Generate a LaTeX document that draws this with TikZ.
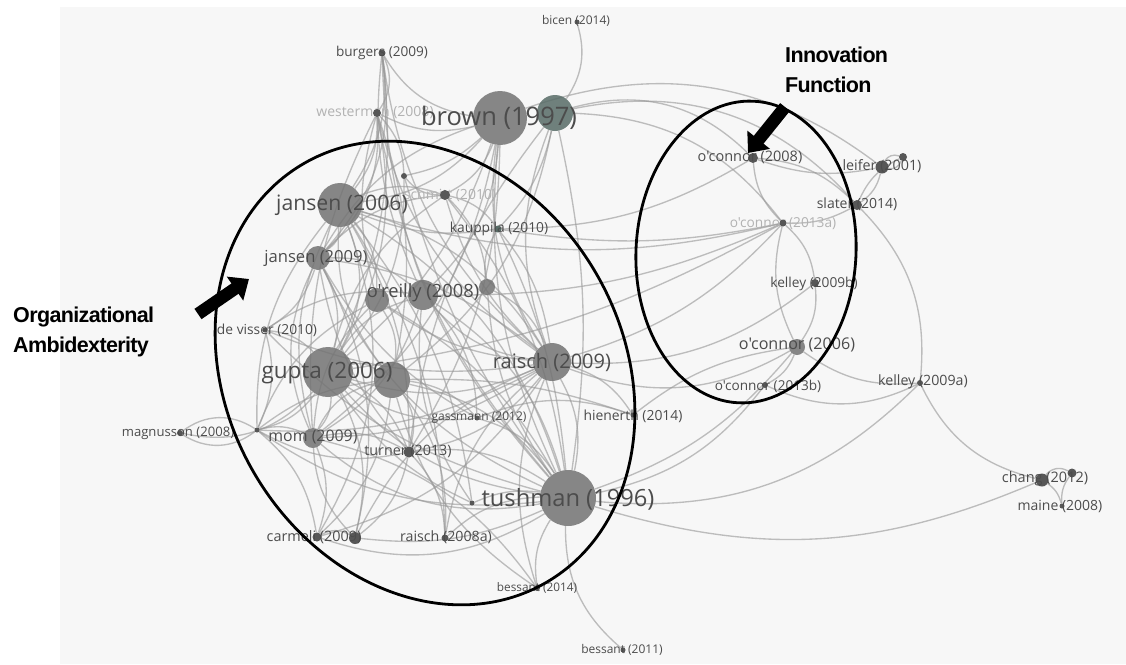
\documentclass[tikz,border=0pt]{standalone}
\usepackage{fontspec}
\usetikzlibrary{arrows.meta}
\newfontfamily\labfont{Open Sans}[Ligatures=TeXOff]
\newfontfamily\notefont{Liberation Sans}[Ligatures=TeXOff,LetterSpace=-3]
\definecolor{slate}{RGB}{88,108,103}
\pgfdeclarelayer{back}
\pgfdeclarelayer{edges}
\pgfsetlayers{back,edges,main}
\begin{document}
\begin{tikzpicture}[x=1pt,y=-1pt,
  paper/.style={circle,inner sep=0pt,minimum size=#1pt,fill=black!55,fill opacity=.85},
  dot/.style={circle,inner sep=0pt,minimum size=#1pt,fill=black!66},
  lbl/.style={font=\labfont\fontsize{#1}{#1}\selectfont,text=black!70,inner sep=0pt},
  faint/.style={font=\labfont\fontsize{#1}{#1}\selectfont,text=black!30,inner sep=0pt},
  edge/.style={draw=black!40,line width=1.35pt,opacity=.62},
  ring/.style={draw=black,line width=2.8pt},
  pointer/.style={line width=12.5pt,-{Triangle[length=17pt,width=28pt]}},
  note/.style={font=\notefont\bfseries\fontsize{21.5}{30}\selectfont,align=left,anchor=west,inner sep=0pt},
]
\useasboundingbox (0,0) rectangle (1126,664);
\begin{pgfonlayer}{back}
  \fill[white] (0,0) rectangle (1126,664);
  \fill[black!3] (60,7) rectangle (1126,664);
\end{pgfonlayer}

% ---- papers (circles) ----
\node[dot=5] (bicen) at (577,22) {};
\node[dot=7] (burgers) at (382,53) {};
\node[dot=8] (wester) at (377,113) {};
\node[paper=54] (brownA) at (500,118) {};
\node[paper=36,fill=slate] (brownB) at (555,113) {};
\node[paper=44] (jansenA) at (340,205) {};
\node[dot=10] (schmitt) at (445,195) {};
\node[dot=6] (smallA) at (404,176) {};
\node[dot=7,fill=slate] (kauppila) at (498,229) {};
\node[paper=24] (jansenB) at (318,258) {};
\node[paper=24] (oreillyA) at (377,300) {};
\node[paper=30] (oreillyB) at (423,295) {};
\node[paper=16] (oreillyC) at (487,287) {};
\node[dot=5] (devisser) at (265,330) {};
\node[paper=50] (guptaA) at (328,372) {};
\node[paper=36] (guptaB) at (392,380) {};
\node[paper=38] (raischA) at (552,362) {};
\node[dot=5] (gassmann) at (477,418) {};
\node[dot=5] (hienerth) at (633,415) {};
\node[dot=6] (magnusson) at (180,433) {};
\node[dot=5] (hub) at (257,430) {};
\node[paper=20] (mom) at (313,438) {};
\node[dot=11] (turner) at (409,452) {};
\node[dot=9] (carmeliA) at (317,537) {};
\node[dot=12] (carmeliB) at (355,538) {};
\node[dot=7] (raischB) at (445,538) {};
\node[paper=56] (tushA) at (568,498) {};
\node[dot=5] (tushdot) at (472,503) {};
\node[dot=6] (bessantA) at (537,588) {};
\node[dot=5] (bessantB) at (623,650) {};
\node[dot=10] (oconA) at (753,158) {};
\node[dot=13] (leiferA) at (882,167) {};
\node[dot=8] (leiferB) at (903,157) {};
\node[dot=10] (slater) at (857,205) {};
\node[dot=7] (oconB) at (783,223) {};
\node[dot=8] (kelleyB) at (815,283) {};
\node[paper=16] (oconC) at (797,347) {};
\node[dot=6] (oconD) at (765,385) {};
\node[dot=6] (kelleyA) at (920,383) {};
\node[dot=13] (changA) at (1042,480) {};
\node[dot=9] (changB) at (1072,473) {};
\node[dot=5] (maine) at (1062,506) {};

% ---- citation links, with the faint labels lying beneath the circles ----
\begin{pgfonlayer}{edges}
\foreach \a/\b/\t in {
  bicen/brownB/25, burgers/wester/30, burgers/jansenA/20, burgers/brownA/-25, burgers/guptaA/15,
  burgers/oreillyB/-15, burgers/tushA/-20, wester/jansenA/20, wester/jansenB/25, wester/guptaA/20,
  wester/oreillyA/-15, wester/brownA/-20, wester/raischA/-20, wester/tushA/-15, wester/smallA/20,
  brownA/jansenA/20, brownA/guptaA/15, brownA/oreillyB/20, brownA/tushA/-15, brownA/raischA/-20,
  brownA/jansenB/-20, brownA/mom/20, brownB/oconA/30, brownB/slater/30, brownA/smallA/15,
  brownA/schmitt/20, brownB/kauppila/15, brownB/tushA/10, brownB/raischA/-20, brownB/oconB/25,
  brownB/guptaB/20, brownB/turner/-15, jansenA/jansenB/25, jansenA/guptaA/25, jansenA/oreillyA/20,
  jansenA/raischA/20, jansenA/tushA/20, jansenA/mom/-20, jansenA/schmitt/20, jansenA/kauppila/-15,
  jansenA/carmeliA/25, schmitt/smallA/25, schmitt/kauppila/20, schmitt/guptaA/-20, schmitt/raischA/-15,
  schmitt/oreillyC/20, schmitt/tushA/15, jansenB/guptaA/20, jansenB/oreillyB/20, jansenB/raischA/15,
  jansenB/mom/-25, jansenB/devisser/20, jansenB/tushA/-20, oreillyA/guptaB/20, oreillyA/raischA/-15,
  oreillyB/tushA/20, oreillyB/gassmann/20, oreillyB/mom/20, oreillyC/raischA/20, oreillyC/kauppila/20,
  devisser/hub/20, devisser/guptaA/20, devisser/raischA/-15, guptaA/guptaB/25, guptaA/raischA/-20,
  guptaA/tushA/-20, guptaA/mom/20, guptaA/carmeliB/20, guptaA/turner/20, guptaA/hub/20,
  guptaB/tushA/20, guptaB/raischB/20, guptaB/carmeliA/20, guptaB/gassmann/20, raischA/tushA/20,
  raischA/hienerth/20, raischA/raischB/-20, raischA/turner/20, raischA/oconB/-15, raischA/oconC/-25,
  raischA/kelleyB/-20, hub/magnusson/35, magnusson/hub/35, hub/mom/20, hub/turner/-20,
  hub/tushA/-20, hub/raischA/-15, hub/guptaB/15, hub/oreillyA/20, magnusson/guptaA/-30,
  mom/turner/20, mom/carmeliA/20, mom/carmeliB/-20, mom/tushA/-25, turner/tushA/20,
  turner/carmeliB/20, turner/raischB/20, carmeliA/carmeliB/30, carmeliA/tushA/-25, carmeliB/tushA/-15,
  raischB/tushA/20, tushdot/tushA/15, tushdot/guptaA/15, tushdot/jansenA/-15, bessantA/tushA/20,
  bessantA/guptaB/20, bessantA/mom/-20, bessantB/tushA/25, tushA/changA/-20, tushA/oconD/-20,
  tushA/oconC/-15, tushA/kelleyA/-25, gassmann/tushA/20, gassmann/hienerth/20, hienerth/oconC/15,
  kauppila/oconB/-10, jansenA/oconB/-15, oconA/oconB/-20, oconA/slater/20, oconA/leiferA/-15,
  leiferA/leiferB/40, leiferB/leiferA/40, leiferA/slater/20, leiferB/slater/-20, slater/oconB/15,
  slater/kelleyA/25, oconB/kelleyB/20, oconB/oconC/-20, kelleyB/oconC/20, oconC/oconD/20,
  oconC/kelleyA/-20, oconD/kelleyA/-25, kelleyA/changA/-25, changA/changB/40, changA/maine/20,
  changB/maine/-20,
  guptaA/oconB/-10, oreillyB/oconB/-12, brownA/leiferA/28, kauppila/oconA/-15, guptaB/hienerth/10,
  wester/guptaB/15, wester/mom/-15, burgers/jansenB/25, burgers/raischA/-20, jansenA/turner/15,
  jansenA/guptaB/-20, jansenB/carmeliB/20, jansenB/turner/-15, oreillyA/tushA/15, oreillyA/mom/-20,
  oreillyB/raischA/-20, oreillyB/guptaA/-20, oreillyC/tushA/-15, guptaB/turner/25, guptaB/mom/-25,
  schmitt/jansenB/-20, smallA/guptaA/20, smallA/tushA/-10, kauppila/tushA/10, kauppila/raischA/15,
  devisser/tushA/-15, devisser/oreillyB/20, mom/raischA/-15, carmeliA/raischA/-20, carmeliB/raischA/20,
  raischB/jansenA/-15, hub/jansenA/20, hub/carmeliA/20, gassmann/guptaA/20, gassmann/jansenB/15,
  turner/brownA/-15, bessantA/raischA/20, tushdot/oreillyB/20}
  \draw[edge] (\a) to[bend left=\t] (\b);
\node[faint=14] (westerL) at (375,113) {westerman (2008)};
\node[faint=14] (schmittL) at (450,195) {schmitt (2010)};
\node[faint=13.7] (oconBL) at (783,224) {o'connor (2013a)};
\end{pgfonlayer}

% ---- labels ----
\node[lbl=12] at (576,21) {bicen (2014)};
\node[lbl=13.6] at (382,53) {burgers (2009)};
\node[lbl=25.5] at (499,118) {brown (1997)};
\node[lbl=21.2] at (342,205) {jansen (2006)};
\node[lbl=13.8] at (499,229) {kauppila (2010)};
\node[lbl=16.6] at (316,258) {jansen (2009)};
\node[lbl=18.3] at (423,293) {o'reilly (2008)};
\node[lbl=13.8] at (267,330) {de visser (2010)};
\node[lbl=22.5] at (327,373) {gupta (2006)};
\node[lbl=20] at (552,362) {raisch (2009)};
\node[lbl=12] at (479,418) {gassmann (2012)};
\node[lbl=13.9] at (633,416) {hienerth (2014)};
\node[lbl=13.1] at (178,433) {magnusson (2008)};
\node[lbl=15.9] at (313,437) {mom (2009)};
\node[lbl=14.3] at (408,451) {turner (2013)};
\node[lbl=14.4] at (314,537) {carmeli (2009)};
\node[lbl=14.2] at (446,537) {raisch (2008a)};
\node[lbl=23.7] at (568,499) {tushman (1996)};
\node[lbl=11.8] at (537,588) {bessant (2014)};
\node[lbl=12] at (622,650) {bessant (2011)};
\node[lbl=14.5] at (750,157) {o'connor (2008)};
\node[lbl=14.3] at (882,166) {leifer (2001)};
\node[lbl=14] at (857,204) {slater (2014)};
\node[lbl=13.7] at (814,284) {kelley (2009b)};
\node[lbl=16.1] at (797,345) {o'connor (2006)};
\node[lbl=13.6] at (768,386) {o'connor (2013b)};
\node[lbl=14.2] at (923,382) {kelley (2009a)};
\node[lbl=14.5] at (1045,479) {chang (2012)};
\node[lbl=14] at (1060,506) {maine (2008)};

% ---- group outlines ----
\draw[ring,rotate around={30:(425,373)}] (425,373) ellipse [x radius=198, y radius=242];
\draw[ring,rotate around={-3:(746,252)}] (746,252) ellipse [x radius=110, y radius=151];

% ---- annotations ----
\coordinate (innTail) at (785,107);
\coordinate (innTip) at (748,153);
\coordinate (orgTail) at (198,314);
\coordinate (orgTip) at (249,279);
\draw[pointer] (innTail) -- (innTip);
\draw[pointer] (orgTail) -- (orgTip);
\node[note] (orgNote) at (13,332) {Organizational\\Ambidexterity};
\node[note] (innNote) at (785,70) {Innovation\\Function};
\end{tikzpicture}
\end{document}
